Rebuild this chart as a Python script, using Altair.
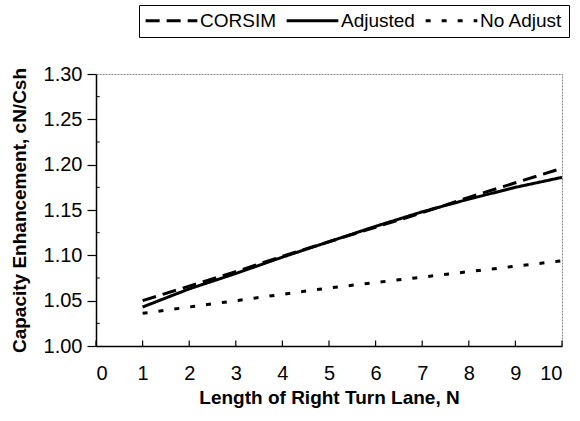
import altair as alt
import pandas as pd

# Lane length (number of vehicles) and capacity enhancement ratios
lane_length = [1, 2, 3, 4, 5, 6, 7, 8, 9, 10]
corsim = [1.050, 1.066, 1.082, 1.099, 1.115, 1.131, 1.147, 1.164, 1.180, 1.196]
adjusted = [1.043, 1.063, 1.080, 1.098, 1.115, 1.132, 1.148, 1.162, 1.175, 1.186]
no_adjust = [1.036, 1.043, 1.050, 1.057, 1.064, 1.070, 1.076, 1.082, 1.088, 1.094]

series_names = ["CORSIM", "Adjusted", "No Adjust"]
series_dash = [[14, 7], [1, 0], [5, 11]]

x_ticks = [0, 1, 2, 3, 4, 5, 6, 7, 8, 9, 10]
y_ticks = [1.00, 1.05, 1.10, 1.15, 1.20, 1.25, 1.30]
y_minor = [1.025, 1.075, 1.125, 1.175, 1.225, 1.275]

rows = []
for name, vals in zip(series_names, [corsim, adjusted, no_adjust]):
    for n, v in zip(lane_length, vals):
        rows.append({"N": n, "ratio": v, "series": name})
df = pd.DataFrame(rows)

FONT = "Liberation Sans"

x_scale = alt.Scale(domain=[0, 10], nice=False, zero=False)
y_scale = alt.Scale(domain=[1.0, 1.3], nice=False, zero=False)

lines = alt.Chart(df).mark_line(strokeWidth=3, color="black", strokeCap="butt").encode(
    x=alt.X(
        "N:Q",
        scale=x_scale,
        axis=alt.Axis(
            values=x_ticks,
            title="Length of Right Turn Lane, N",
            ticks=False,
            labelPadding=17,
            titlePadding=5,
        ),
    ),
    y=alt.Y(
        "ratio:Q",
        scale=y_scale,
        axis=alt.Axis(
            values=y_ticks,
            format=".2f",
            title="Capacity Enhancement, cN/Csh",
            tickSize=9,
            labelPadding=5,
            titlePadding=14,
        ),
    ),
    strokeDash=alt.StrokeDash(
        "series:N",
        scale=alt.Scale(domain=series_names, range=series_dash),
        legend=alt.Legend(
            title=None,
            orient="none",
            legendX=43,
            legendY=-69,
            direction="horizontal",
            columns=3,
            # long horizontal line sample with a small nominal size keeps the row short
            symbolType="M-4.7,0H4.7",
            symbolSize=121,
            symbolOffset=17,
            symbolStrokeWidth=3,
            symbolStrokeColor="black",
            labelFont=FONT,
            labelFontSize=19,
            labelColor="black",
            labelOffset=19,
            columnPadding=4,
            padding=6,
            strokeColor="black",
            fillColor="white",
        ),
    ),
)

# inward major ticks along the bottom axis
x_tick_df = pd.DataFrame({"N": x_ticks})
x_tick_marks = alt.Chart(x_tick_df).mark_rule(color="black", strokeWidth=1.2).encode(
    x=alt.X("N:Q", scale=x_scale),
    y=alt.datum(1.0, scale=y_scale),
    y2=alt.datum(1.006),
)

# inward minor ticks along the left axis
y_minor_df = pd.DataFrame({"ratio": y_minor})
y_minor_marks = alt.Chart(y_minor_df).mark_rule(color="black", strokeWidth=1).encode(
    y=alt.Y("ratio:Q", scale=y_scale),
    x=alt.datum(0, scale=x_scale),
    x2=alt.datum(0.08),
)

chart = (
    alt.layer(lines, x_tick_marks, y_minor_marks)
    .properties(
        width=580,
        height=421,
        autosize=alt.AutoSizeParams(type="fit", contains="padding"),
        padding={"left": 10, "right": 12, "top": 64, "bottom": 14},
        background="white",
    )
    .configure_view(stroke="#888888", strokeDash=[2, 1], strokeWidth=1)
    .configure_axis(
        labelFont=FONT,
        labelFontSize=20,
        labelColor="black",
        titleFont=FONT,
        titleFontSize=19,
        titleFontWeight="bold",
        titleColor="black",
        domainColor="black",
        domainWidth=1.5,
        tickColor="black",
        tickWidth=1.2,
        grid=False,
    )
)

chart.save("out.html", embed_options={"renderer": "svg", "actions": False})
